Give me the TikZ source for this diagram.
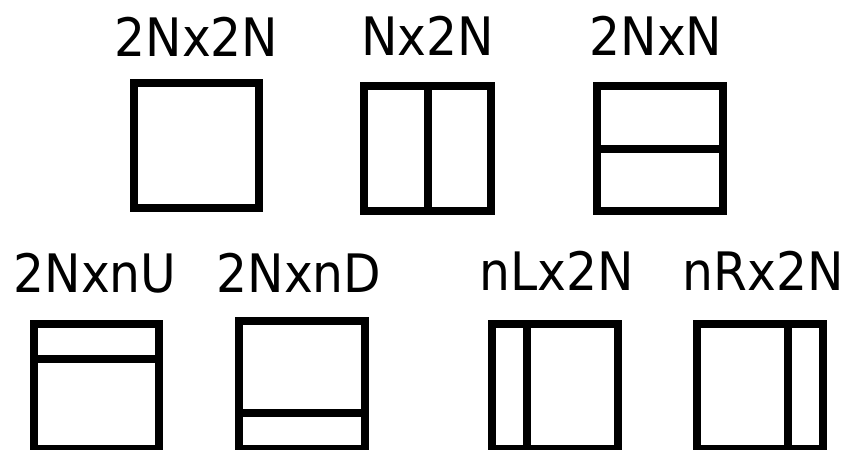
\documentclass[tikz,border=0pt]{standalone}
\usepackage{fontspec}
\setmainfont{DejaVu Sans}[FakeStretch=0.92]
\usetikzlibrary{calc}
\begin{document}
\begin{tikzpicture}[x=1pt,y=-1pt,
  pu/.style={draw=black, line width=8pt, rectangle, outer sep=0pt, inner sep=0pt, fill=none},
  divider/.style={draw=black, line width=8pt},
  lbl/.style={anchor=base, inner sep=0pt, font=\fontsize{53}{60}\selectfont}]
\useasboundingbox[fill=white] (0,0) rectangle (847,450);
% labels
\node[lbl] (t1) at (196.5,56) {2Nx2N};
\node[lbl] (t2) at (427.5,55) {Nx2N};
\node[lbl] (t3) at (656,55) {2NxN};
\node[lbl] (t4) at (95,292) {2NxnU};
\node[lbl] (t5) at (299,292) {2NxnD};
\node[lbl] (t6) at (557,290) {nLx2N};
\node[lbl] (t7) at (763.5,290) {nRx2N};
% boxes
\node[pu, minimum width=125pt, minimum height=125pt] (A) at (196.5,145.5) {};
\node[pu, minimum width=127pt, minimum height=125pt] (B) at (427.5,148.5) {};
\node[pu, minimum width=126pt, minimum height=125pt] (C) at (660,148.5) {};
\node[pu, minimum width=125pt, minimum height=125pt] (D) at (96.5,386.5) {};
\node[pu, minimum width=126pt, minimum height=128pt] (E) at (302,385) {};
\node[pu, minimum width=126pt, minimum height=125pt] (F) at (555,386.5) {};
\node[pu, minimum width=126pt, minimum height=125pt] (G) at (760,386.5) {};
% dividers
\draw[divider] (B.north) -- (B.south);
\draw[divider] (C.west) -- (C.east);
\draw[divider] ($(D.north west)!0.28!(D.south west)$) -- ($(D.north east)!0.28!(D.south east)$);
\draw[divider] ($(E.north west)!0.715!(E.south west)$) -- ($(E.north east)!0.715!(E.south east)$);
\draw[divider] ($(F.north west)!0.28!(F.north east)$) -- ($(F.south west)!0.28!(F.south east)$);
\draw[divider] ($(G.north west)!0.72!(G.north east)$) -- ($(G.south west)!0.72!(G.south east)$);
\end{tikzpicture}
\end{document}
